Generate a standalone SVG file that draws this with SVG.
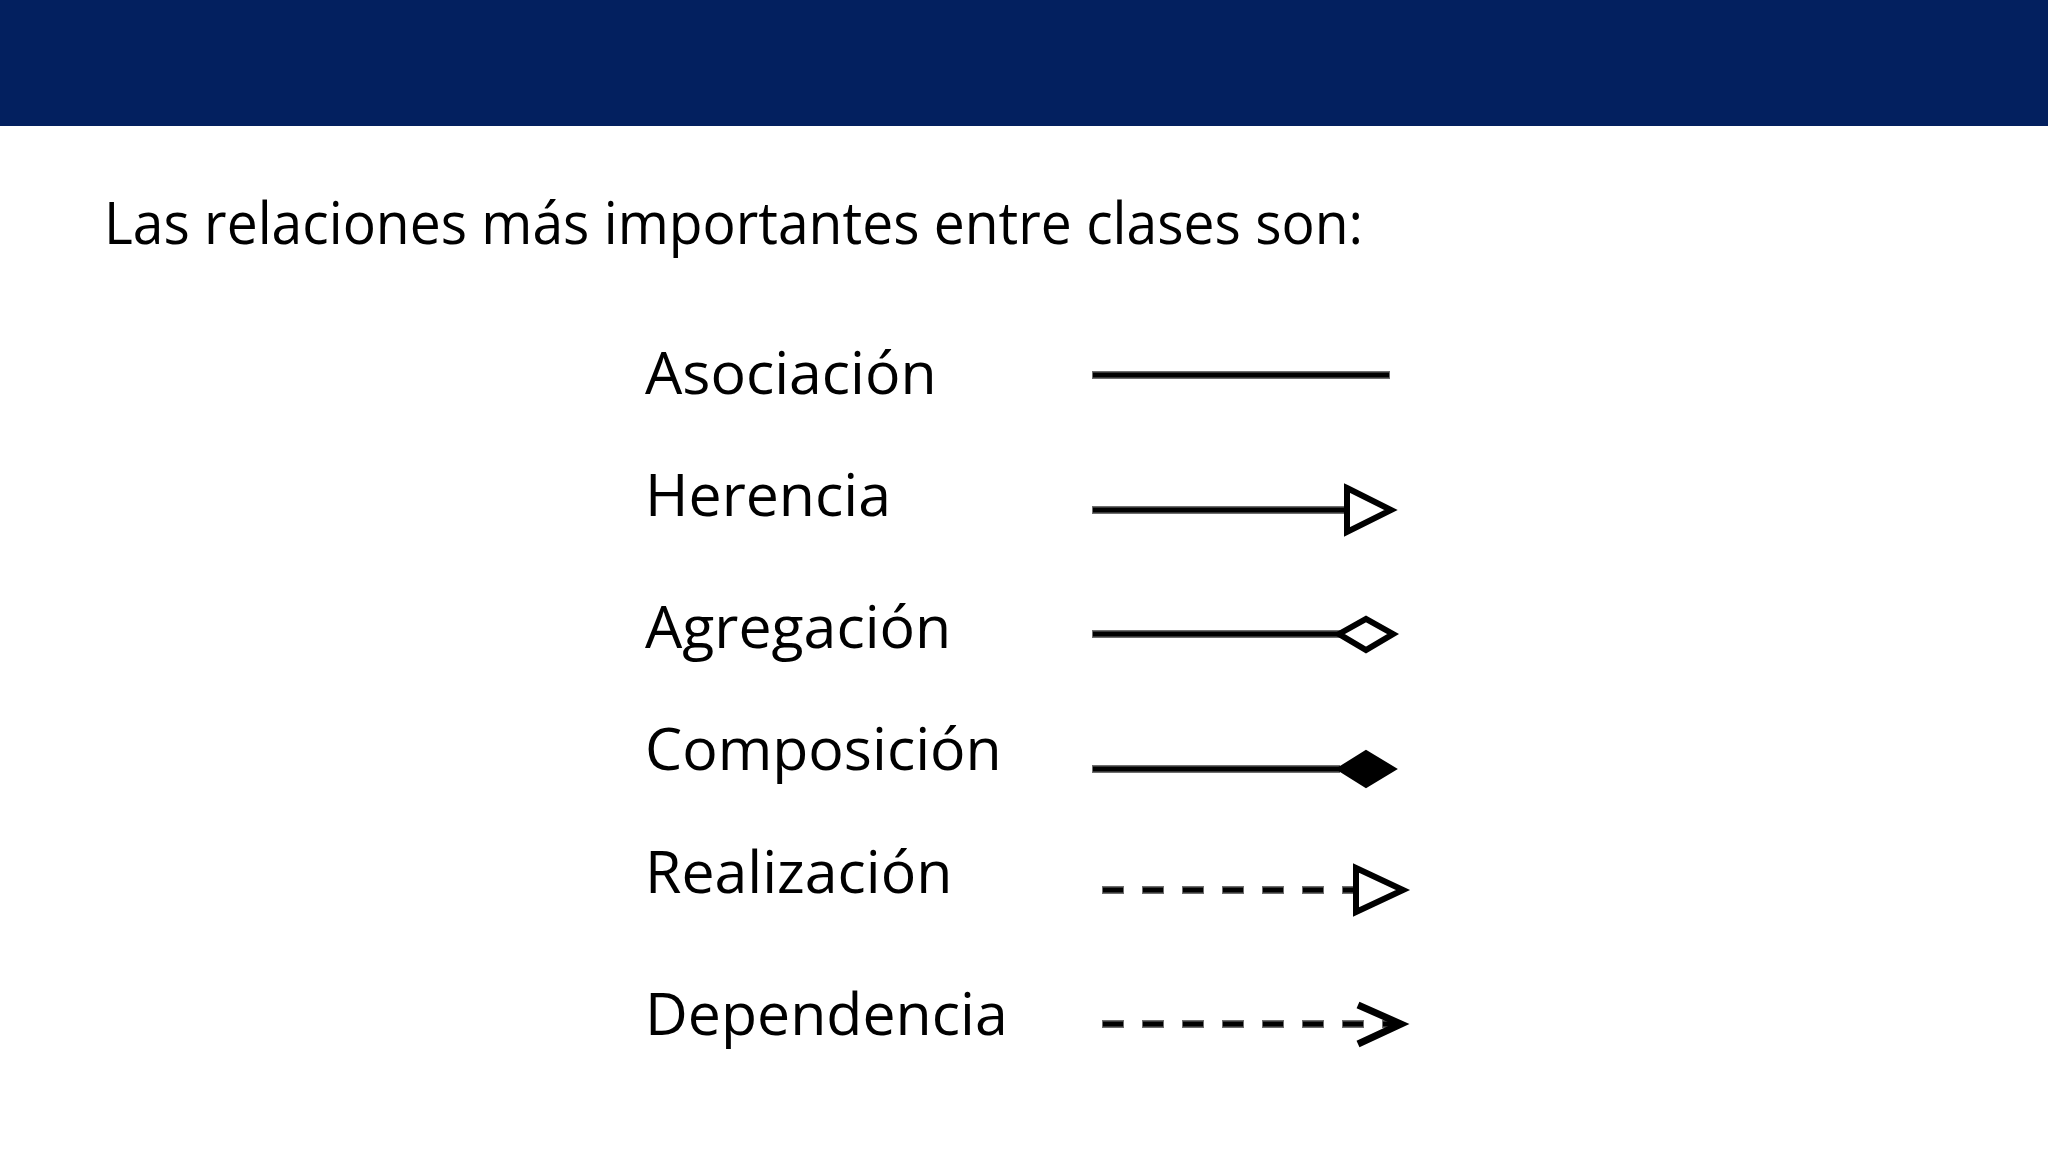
<svg xmlns="http://www.w3.org/2000/svg" width="2048" height="1152" viewBox="0 0 2048 1152">
  <style>
    .lbl { font-family: "Open Sans", "Noto Sans", "Liberation Sans", sans-serif; font-size: 59px; fill: #000; }
    .halo { stroke: #6e6e6e; stroke-width: 8; fill: none; }
    .core { stroke: #000; stroke-width: 5; fill: none; }
    .dhalo { stroke: #6e6e6e; stroke-width: 8; fill: none; stroke-dasharray: 22 18; }
    .dcore { stroke: #000; stroke-width: 5; fill: none; stroke-dasharray: 20 20; stroke-dashoffset: -1; }
    .head { stroke: #000; stroke-width: 6; fill: #fff; stroke-linejoin: miter; }
    .headf { stroke: #000; stroke-width: 4; fill: #000; }
    .open { stroke: #000; stroke-width: 7; fill: none; }
  </style>
  <rect x="0" y="0" width="2048" height="1152" fill="#ffffff"/>
  <rect id="header" x="0" y="0" width="2048" height="126" fill="#03205f"/>
  <text id="title" class="lbl" x="104" y="244" textLength="1259" lengthAdjust="spacingAndGlyphs">Las relaciones más importantes entre clases son:</text>

  <g id="asociacion"><text class="lbl" x="645" y="394">Asociación</text></g>
  <g id="herencia"><text class="lbl" x="645" y="516">Herencia</text></g>
  <g id="agregacion"><text class="lbl" x="645" y="648">Agregación</text></g>
  <g id="composicion"><text class="lbl" x="645" y="770">Composición</text></g>
  <g id="realizacion"><text class="lbl" x="645" y="893">Realización</text></g>
  <g id="dependencia"><text class="lbl" x="645" y="1035">Dependencia</text></g>

  <g id="connectors">
    <line class="halo" x1="1092" y1="375" x2="1390" y2="375"/>
    <line class="core" x1="1093" y1="375" x2="1389" y2="375"/>
    <line class="halo" x1="1092" y1="510" x2="1347" y2="510"/>
    <line class="core" x1="1093" y1="510" x2="1347" y2="510"/>
    <polygon class="head" points="1347,488 1391,510 1347,532"/>
    <line class="halo" x1="1092" y1="634" x2="1340" y2="634"/>
    <line class="core" x1="1093" y1="634" x2="1340" y2="634"/>
    <polygon class="head" points="1339,634 1366,619 1393,634 1366,650"/>
    <line class="halo" x1="1092" y1="769" x2="1340" y2="769"/>
    <line class="core" x1="1093" y1="769" x2="1340" y2="769"/>
    <polygon class="headf" points="1339,769 1366,752 1394,769 1366,786"/>
    <line class="dhalo" x1="1102" y1="890" x2="1356" y2="890"/>
    <line class="dcore" x1="1102" y1="890" x2="1356" y2="890"/>
    <polygon class="head" points="1356,868 1403,890 1356,912"/>
    <line class="dhalo" x1="1102" y1="1024" x2="1398" y2="1024"/>
    <line class="dcore" x1="1102" y1="1024" x2="1398" y2="1024"/>
    <polyline class="open" points="1358,1005 1401,1024 1358,1044"/>
  </g>
</svg>
